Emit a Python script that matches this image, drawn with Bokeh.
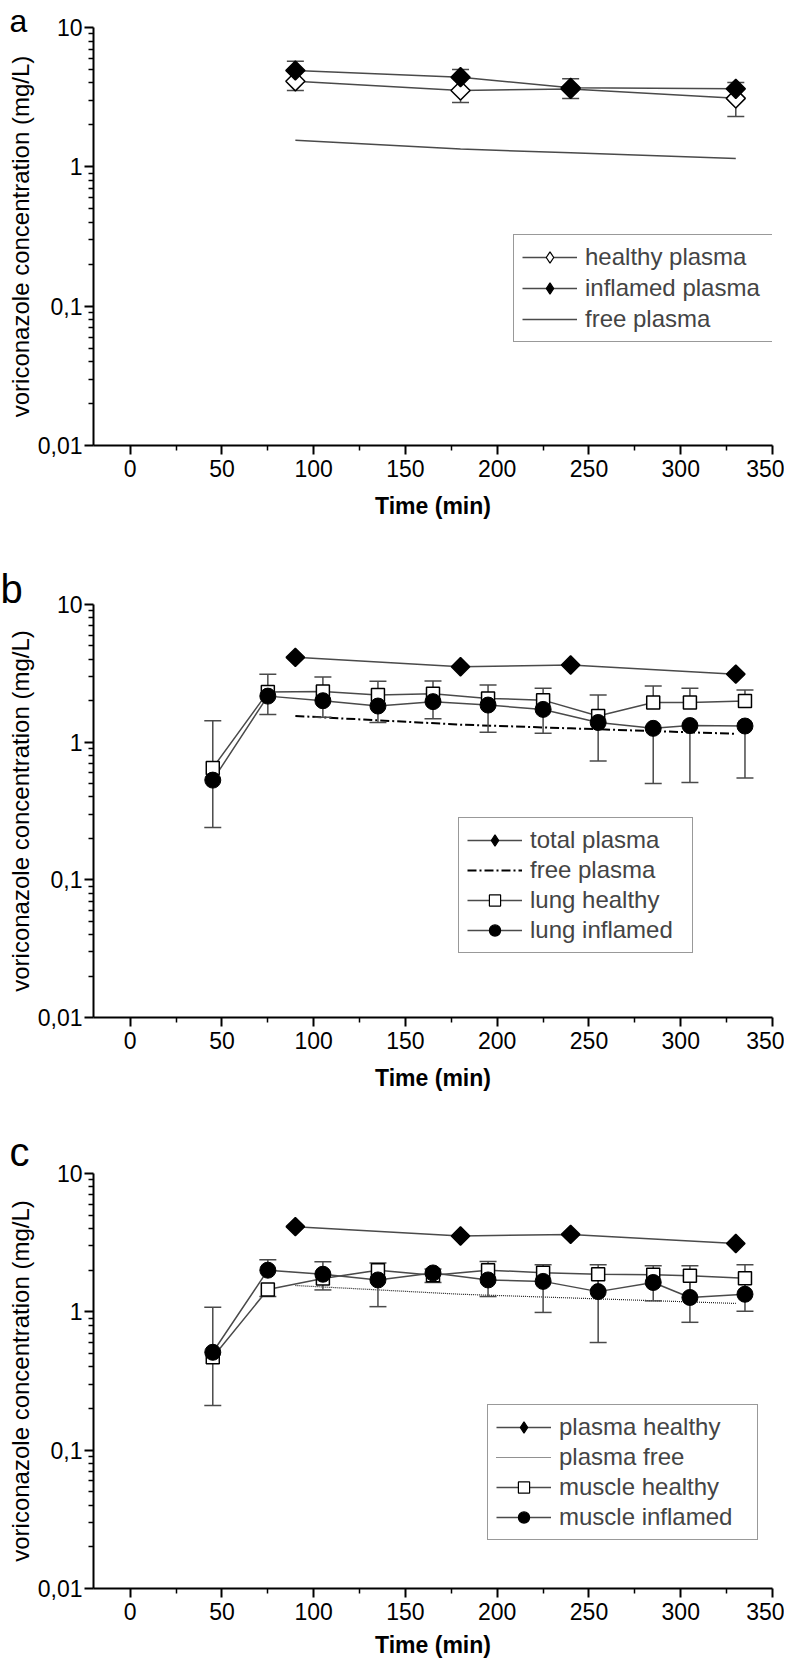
from bokeh.plotting import figure
from bokeh.layouts import column
from bokeh.models import Range1d, FixedTicker, Legend, LegendItem
from bokeh.embed import file_html
from bokeh.resources import INLINE
import math

FONT = "Liberation Sans"

# ---------------- data ----------------
# panel a
plasma_time = [90, 180, 240, 330]
a_healthy_plasma = [4.11, 3.53, 3.62, 3.10]
a_healthy_err_minus = [0.58, 0.63, 0.53, 0.80]
a_inflamed_plasma = [4.91, 4.40, 3.69, 3.63]
a_inflamed_err_plus = [0.82, 0.59, 0.60, 0.40]
free_plasma = [1.55, 1.34, 1.26, 1.15]

# panels b and c
total_plasma = [4.13, 3.53, 3.63, 3.12]
tissue_time = [45, 75, 105, 135, 165, 195, 225, 255, 285, 305, 335]

lung_healthy = [0.65, 2.31, 2.33, 2.20, 2.25, 2.08, 2.02, 1.55, 1.94, 1.94, 1.99]
lung_healthy_err_plus = [0.78, 0.80, 0.64, 0.57, 0.53, 0.52, 0.44, 0.65, 0.62, 0.52, 0.40]
lung_inflamed = [0.53, 2.16, 2.00, 1.83, 1.97, 1.86, 1.73, 1.39, 1.26, 1.32, 1.31]
lung_inflamed_err_minus = [0.29, 0.57, 0.48, 0.44, 0.49, 0.68, 0.57, 0.66, 0.76, 0.81, 0.76]

muscle_healthy = [0.47, 1.45, 1.74, 2.00, 1.84, 2.00, 1.92, 1.87, 1.85, 1.82, 1.75]
muscle_healthy_err_minus = [0.26, 0.16, 0.30, 0.91, 0.21, 0.71, 0.93, 1.27, 0.65, 0.98, 0.74]
muscle_inflamed = [0.51, 2.00, 1.87, 1.70, 1.91, 1.70, 1.66, 1.40, 1.63, 1.27, 1.34]
muscle_inflamed_err_plus = [0.57, 0.38, 0.43, 0.55, 0.13, 0.61, 0.53, 0.79, 0.52, 0.88, 0.85]

x_ticks = [0, 50, 100, 150, 200, 250, 300, 350]
x_minor = [25, 75, 125, 175, 225, 275, 325]
y_ticks = [0.01, 0.1, 1, 10]
y_tick_labels = ["0,01", "0,1", "1", "10"]

LINE = "#4a4a4a"
ERR = "#4a4a4a"


def make_fig(letter, letter_size, bl, fw, br, bt, fh, bb, standoff, xlabel_standoff):
    p = figure(width=bl + fw + br, height=bt + fh + bb,
               min_border_left=bl, min_border_right=br,
               min_border_top=bt, min_border_bottom=bb,
               x_range=Range1d(-20, 350), y_range=Range1d(0.01, 10),
               y_axis_type="log", output_backend="svg", toolbar_location=None)
    p.outline_line_color = None
    p.grid.visible = False
    p.background_fill_color = "white"
    p.border_fill_color = "white"

    p.title.text = letter
    p.title.text_font = FONT
    p.title.text_font_size = letter_size
    p.title.text_font_style = "normal"
    p.title.text_color = "black"
    p.title.align = "left"
    p.title.offset = -bl
    p.title.standoff = standoff

    minor = [m * 10 ** k for k in range(-2, 1) for m in range(2, 10)]
    p.yaxis.ticker = FixedTicker(ticks=y_ticks, minor_ticks=minor)
    p.yaxis.major_label_overrides = {t: s for t, s in zip(y_ticks, y_tick_labels)}
    p.xaxis.ticker = FixedTicker(ticks=x_ticks, minor_ticks=x_minor)

    for ax in (p.xaxis, p.yaxis):
        ax.axis_line_width = 2
        ax.axis_line_color = "black"
        ax.major_tick_line_width = 2
        ax.minor_tick_line_width = 1.5
        ax.major_tick_out = 9
        ax.major_tick_in = 0
        ax.minor_tick_out = 5
        ax.minor_tick_in = 0
        ax.major_label_text_font = FONT
        ax.major_label_text_font_size = "23px"
        ax.major_label_text_color = "black"
        ax.axis_label_text_font = FONT
        ax.axis_label_text_color = "black"
    p.xaxis.axis_label = "Time (min)"
    p.xaxis.axis_label_text_font_size = "23px"
    p.xaxis.axis_label_text_font_style = "bold"
    p.xaxis.major_label_standoff = 5
    p.xaxis.axis_label_standoff = xlabel_standoff
    p.yaxis.axis_label = "voriconazole concentration (mg/L)"
    p.yaxis.axis_label_text_font_size = "24px"
    p.yaxis.axis_label_text_font_style = "normal"
    p.yaxis.major_label_standoff = 2
    p.yaxis.axis_label_standoff = 1
    return p


def errbars(p, xs, ys, errs, sign):
    ends = [y + sign * e for y, e in zip(ys, errs)]
    p.segment(x0=xs, y0=ys, x1=xs, y1=ends, line_color=ERR, line_width=1.5)
    p.scatter(xs, ends, marker="dash", size=17, line_color=ERR, line_width=1.5)


def legend_marker(p, marker, fill):
    # renderer with no visible data: only shows its glyph in the legend
    return p.scatter(x=[float("nan")], y=[float("nan")], marker=marker, size=12,
                     fill_color=fill, line_color="black", line_width=1.2)


def add_legend(p, items, x, y, spacing, label_width):
    leg = Legend(items=items, location=(x, y), orientation="vertical",
                 label_text_font=FONT, label_text_font_size="24px",
                 glyph_width=55, glyph_height=28, label_height=28,
                 label_standoff=8, spacing=spacing, padding=8, margin=0,
                 label_width=label_width,
                 border_line_color="#333333", border_line_width=1.5,
                 background_fill_color="white", background_fill_alpha=1.0)
    p.add_layout(leg)


DIAMOND_ANGLE = math.pi / 4
figs = []

# ---------------- panel a ----------------
bl, fw, br, bt, fh, bb = 84, 688, 12, 27, 418, 118
pa = make_fig("a", "32px", bl, fw, br, bt, fh, bb, -22, 13)
l_free = pa.line(plasma_time, free_plasma, line_color=LINE, line_width=1.5)
l_h = pa.line(plasma_time, a_healthy_plasma, line_color=LINE, line_width=1.5)
l_i = pa.line(plasma_time, a_inflamed_plasma, line_color=LINE, line_width=1.5)
errbars(pa, plasma_time, a_healthy_plasma, a_healthy_err_minus, -1)
errbars(pa, plasma_time, a_inflamed_plasma, a_inflamed_err_plus, +1)
pa.scatter(plasma_time, a_healthy_plasma, marker="square", angle=DIAMOND_ANGLE,
           size=13.5, fill_color="white", line_color="black", line_width=1.5)
pa.scatter(plasma_time, a_inflamed_plasma, marker="square", angle=DIAMOND_ANGLE,
           size=13.5, fill_color="black", line_color="black", line_width=1.5)
add_legend(pa, [LegendItem(label="healthy plasma", renderers=[l_h, legend_marker(pa, "diamond", "white")]),
                LegendItem(label="inflamed plasma", renderers=[l_i, legend_marker(pa, "diamond", "black")]),
                LegendItem(label="free plasma", renderers=[l_free])],
           420, 103, 3, 192)
figs.append(pa)

# ---------------- panel b ----------------
bl, fw, br, bt, fh, bb = 93, 679, 12, 41, 413, 104
pb = make_fig("b", "40px", bl, fw, br, bt, fh, bb, -12, 13)
l_tot = pb.line(plasma_time, total_plasma, line_color=LINE, line_width=1.5)
l_fr = pb.line(plasma_time, free_plasma, line_color="black", line_width=2, line_dash="9 3 2 3")
l_lh = pb.line(tissue_time, lung_healthy, line_color=LINE, line_width=1.5)
l_li = pb.line(tissue_time, lung_inflamed, line_color=LINE, line_width=1.5)
errbars(pb, tissue_time, lung_healthy, lung_healthy_err_plus, +1)
errbars(pb, tissue_time, lung_inflamed, lung_inflamed_err_minus, -1)
pb.scatter(plasma_time, total_plasma, marker="square", angle=DIAMOND_ANGLE,
           size=13, fill_color="black", line_color="black", line_width=1.5)
pb.scatter(tissue_time, lung_healthy, marker="square", size=13,
           fill_color="white", line_color="black", line_width=1.5)
pb.scatter(tissue_time, lung_inflamed, marker="circle", size=16,
           fill_color="black", line_color="black", line_width=1)
add_legend(pb, [LegendItem(label="total plasma", renderers=[l_tot, legend_marker(pb, "diamond", "black")]),
                LegendItem(label="free plasma", renderers=[l_fr]),
                LegendItem(label="lung healthy", renderers=[l_lh, legend_marker(pb, "square", "white")]),
                LegendItem(label="lung inflamed", renderers=[l_li, legend_marker(pb, "circle", "black")])],
           365, 64, 2, 154)
figs.append(pb)

# ---------------- panel c ----------------
bl, fw, br, bt, fh, bb = 84, 688, 12, 52, 415, 75
pc = make_fig("c", "40px", bl, fw, br, bt, fh, bb, 0, 9)
l_ph = pc.line(plasma_time, total_plasma, line_color=LINE, line_width=1.5)
l_pf = pc.line(plasma_time, free_plasma, line_color="#222222", line_width=1.2, line_dash="1 1")
l_mh = pc.line(tissue_time, muscle_healthy, line_color=LINE, line_width=1.5)
l_mi = pc.line(tissue_time, muscle_inflamed, line_color=LINE, line_width=1.5)
errbars(pc, tissue_time, muscle_healthy, muscle_healthy_err_minus, -1)
errbars(pc, tissue_time, muscle_inflamed, muscle_inflamed_err_plus, +1)
pc.scatter(plasma_time, total_plasma, marker="square", angle=DIAMOND_ANGLE,
           size=13, fill_color="black", line_color="black", line_width=1.5)
pc.scatter(tissue_time, muscle_healthy, marker="square", size=13,
           fill_color="white", line_color="black", line_width=1.5)
pc.scatter(tissue_time, muscle_inflamed, marker="circle", size=16,
           fill_color="black", line_color="black", line_width=1)
add_legend(pc, [LegendItem(label="plasma healthy", renderers=[l_ph, legend_marker(pc, "diamond", "black")]),
                LegendItem(label="plasma free", renderers=[l_pf]),
                LegendItem(label="muscle healthy", renderers=[l_mh, legend_marker(pc, "square", "white")]),
                LegendItem(label="muscle inflamed", renderers=[l_mi, legend_marker(pc, "circle", "black")])],
           394, 48, 2, 190)
figs.append(pc)

layout = column(*figs, spacing=0)
open("out.html", "w").write(file_html(layout, INLINE))
